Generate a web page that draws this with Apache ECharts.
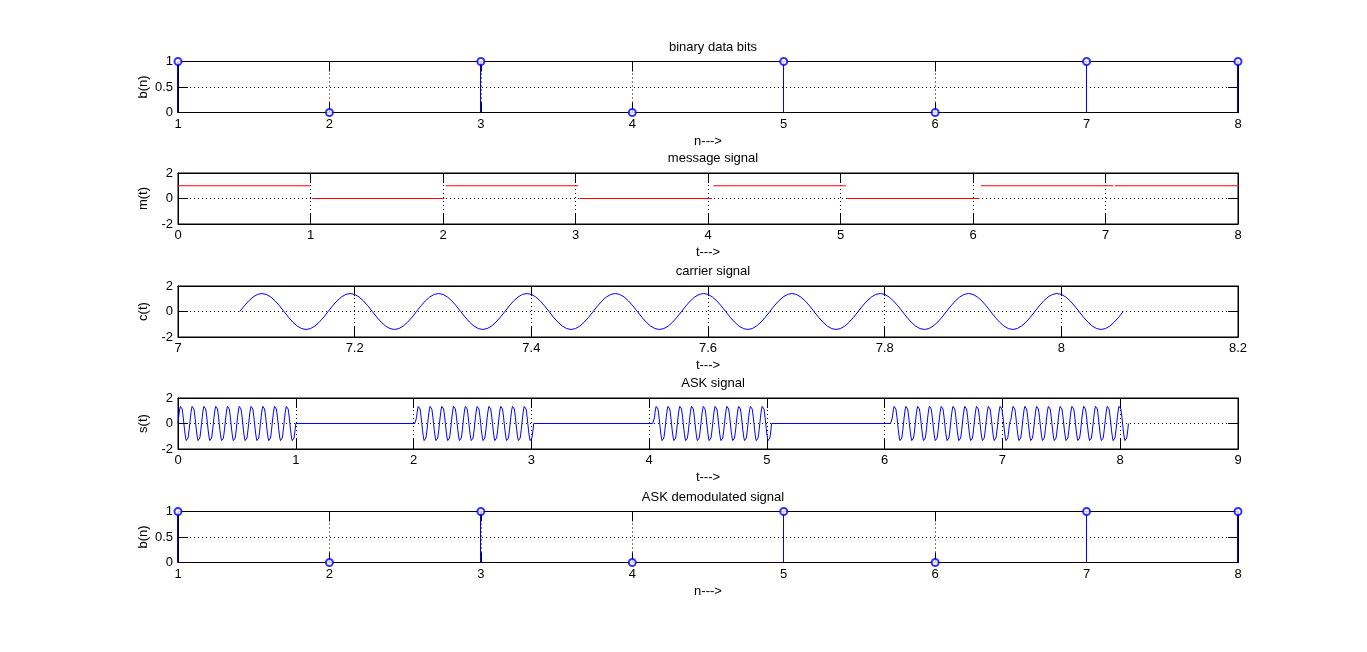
<!DOCTYPE html>
<html>
<head>
<meta charset="utf-8">
<script src="https://cdn.jsdelivr.net/npm/echarts@6/dist/echarts.min.js"></script>
<style>
html,body{margin:0;padding:0;background:#fff;}
#chart{width:1367px;height:652px;}
</style>
</head>
<body>
<div id="chart"></div>
<script>
// ---------- data ----------
var bitIndex = [1, 2, 3, 4, 5, 6, 7, 8];
var bits = [1, 0, 1, 0, 1, 0, 1, 1];
var demodBits = [1, 0, 1, 0, 1, 0, 1, 1];
// start time of each bit interval
var bitStart = [0, 1.01, 2.02, 3.03, 4.04, 5.05, 6.06, 7.07];
var bitDuration = 1;
var cyclesPerBit = 10;
// one period of the carrier, sampled (amplitude about 1.41)
var carrierCycle = [0, 0.44, 0.83, 1.14, 1.34, 1.41, 1.34, 1.14, 0.83, 0.44,
                    0, -0.44, -0.83, -1.14, -1.34, -1.41, -1.34, -1.14, -0.83, -0.44];
var carrierBit = 7; // index of bit whose carrier is displayed (t = 7.07 .. 8.07)

var titles = ['binary data bits', 'message signal', 'carrier signal', 'ASK signal', 'ASK demodulated signal'];
var xNames = ['n--->', 't--->', 't--->', 't--->', 'n--->'];
var yNames = ['b(n)', 'm(t)', 'c(t)', 's(t)', 'b(n)'];
var xRanges = [[1, 8, 1], [0, 8, 1], [7, 8.2, 0.2], [0, 9, 1], [1, 8, 1]];
var yRanges = [[0, 1, 0.5], [-2, 2, 2], [-2, 2, 2], [-2, 2, 2], [0, 1, 0.5]];

// ---------- build ----------
function carrierSegment(t0) {
  var pts = [];
  var n = carrierCycle.length;
  var period = bitDuration / cyclesPerBit;
  for (var c = 0; c < cyclesPerBit; c++) {
    for (var j = 0; j < n; j++) {
      pts.push([t0 + c * period + j * period / n, carrierCycle[j]]);
    }
  }
  pts.push([t0 + bitDuration, carrierCycle[0]]);
  return pts;
}

var BLUE = '#0000ff', RED = '#ff0000', BLACK = '#000000';
var FONT = 'Liberation Sans, Arial, sans-serif';
var FS = 13;
var gridTops = [61.5, 173, 286, 398, 511.5];
var gridH = 51;
var LEFT = 178, WIDTH = 1060;

var grids = [], xAxes = [], yAxes = [], series = [], titleComps = [];

function fmt(v) { return String(Math.round(v * 1000) / 1000); }

for (var i = 0; i < 5; i++) {
  grids.push({left: LEFT, top: gridTops[i], width: WIDTH, height: gridH,
    show: true, borderColor: BLACK, borderWidth: 1, backgroundColor: '#fff', containLabel: false});
  titleComps.push({text: titles[i], left: LEFT + WIDTH / 2, top: gridTops[i] - 26, textAlign: 'center',
    textStyle: {fontFamily: FONT, fontSize: FS, fontWeight: 'normal', color: BLACK}});
  var xr = xRanges[i], yr = yRanges[i];
  xAxes.push({type: 'value', gridIndex: i, min: xr[0], max: xr[1], interval: xr[2], position: 'bottom',
    name: xNames[i], nameLocation: 'middle', nameGap: 22, nameMoveOverlap: false,
    nameTextStyle: {fontFamily: FONT, fontSize: FS, color: BLACK},
    axisLine: {show: true, onZero: false, lineStyle: {color: BLACK, width: 1}},
    axisTick: {show: true, inside: true, length: 10, lineStyle: {color: BLACK}},
    axisLabel: {show: true, margin: 5, fontFamily: FONT, fontSize: FS, color: BLACK, formatter: fmt,
      showMinLabel: true, showMaxLabel: true},
    splitLine: {show: true, lineStyle: {color: BLACK, type: [1, 3], width: 1}}});
  xAxes.push({type: 'value', gridIndex: i, min: xr[0], max: xr[1], interval: xr[2], position: 'top',
    axisLine: {show: true, onZero: false, lineStyle: {color: BLACK}},
    axisTick: {show: true, inside: true, length: 10, lineStyle: {color: BLACK}},
    axisLabel: {show: false}, splitLine: {show: false}});
  yAxes.push({type: 'value', gridIndex: i, min: yr[0], max: yr[1], interval: yr[2], position: 'left',
    name: yNames[i], nameLocation: 'middle', nameGap: 28, nameRotate: 90, nameMoveOverlap: false,
    nameTextStyle: {fontFamily: FONT, fontSize: FS, color: BLACK},
    axisLine: {show: true, onZero: false, lineStyle: {color: BLACK, width: 1}},
    axisTick: {show: true, inside: true, length: 10, lineStyle: {color: BLACK}},
    axisLabel: {show: true, margin: 5, fontFamily: FONT, fontSize: FS, color: BLACK, formatter: fmt,
      showMinLabel: true, showMaxLabel: true},
    splitLine: {show: true, lineStyle: {color: BLACK, type: [1, 3], width: 1}}});
  yAxes.push({type: 'value', gridIndex: i, min: yr[0], max: yr[1], interval: yr[2], position: 'right',
    axisLine: {show: true, onZero: false, lineStyle: {color: BLACK}},
    axisTick: {show: true, inside: true, length: 10, lineStyle: {color: BLACK}},
    axisLabel: {show: false}, splitLine: {show: false}});
}

function stemSeries(gi, xs, ys) {
  var data = xs.map(function (x, k) { return [x, ys[k]]; });
  series.push({type: 'custom', xAxisIndex: gi * 2, yAxisIndex: gi * 2, data: data, clip: false, z: 5,
    renderItem: function (params, api) {
      var p0 = api.coord([api.value(0), 0]);
      var p1 = api.coord([api.value(0), api.value(1)]);
      var col = Math.floor(p0[0] - 0.5);
      return {type: 'rect', shape: {x: col, y: Math.min(p0[1], p1[1]), width: 1, height: Math.abs(p0[1] - p1[1])},
        style: {fill: BLUE}};
    }});
  series.push({type: 'scatter', xAxisIndex: gi * 2, yAxisIndex: gi * 2, data: data, clip: false, z: 6,
    symbol: 'emptyCircle', symbolSize: 7,
    itemStyle: {color: BLUE, borderColor: BLUE, borderWidth: 1}});
}

// plot 1: binary data bits
stemSeries(0, bitIndex, bits);

// plot 2: message signal (one segment per bit)
for (var k = 0; k < bits.length; k++) {
  series.push({type: 'line', xAxisIndex: 2, yAxisIndex: 2, showSymbol: false, clip: true, z: 3,
    data: [[bitStart[k], bits[k]], [bitStart[k] + bitDuration, bits[k]]],
    lineStyle: {color: RED, width: 1}});
}

// plot 3: carrier signal
series.push({type: 'line', xAxisIndex: 4, yAxisIndex: 4, showSymbol: false, z: 3,
  data: carrierSegment(bitStart[carrierBit]), lineStyle: {color: BLUE, width: 1}});

// plot 4: ASK signal
var ask = [];
for (var k2 = 0; k2 < bits.length; k2++) {
  if (bits[k2] === 1) {
    ask = ask.concat(carrierSegment(bitStart[k2]));
  } else {
    ask.push([bitStart[k2], 0], [bitStart[k2] + bitDuration, 0]);
  }
}
series.push({type: 'line', xAxisIndex: 6, yAxisIndex: 6, showSymbol: false, z: 3,
  data: ask, lineStyle: {color: BLUE, width: 1}});

// plot 5: demodulated bits
stemSeries(4, bitIndex, demodBits);

var chart = echarts.init(document.getElementById('chart'), null, {renderer: 'canvas'});
chart.setOption({
  animation: false,
  backgroundColor: '#ffffff',
  title: titleComps,
  grid: grids,
  xAxis: xAxes,
  yAxis: yAxes,
  series: series
});
</script>
</body>
</html>
